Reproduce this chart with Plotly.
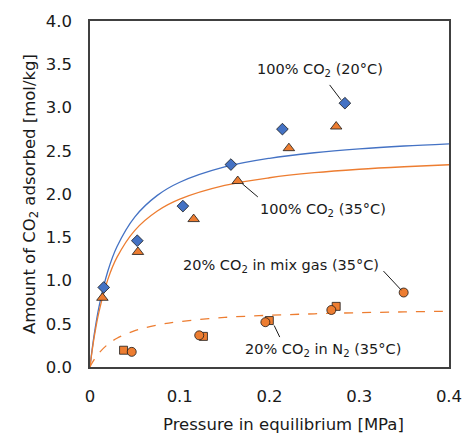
import plotly.graph_objects as go

# Measured points
p_20 = [0.0153, 0.0527, 0.1035, 0.157, 0.2144, 0.284]
q_20 = [0.92, 1.46, 1.86, 2.34, 2.75, 3.05]

p_35 = [0.0138, 0.0534, 0.1155, 0.1646, 0.2216, 0.2743]
q_35 = [0.80, 1.33, 1.71, 2.15, 2.53, 2.78]

p_mix = [0.0465, 0.1217, 0.1954, 0.2689, 0.3495]
q_mix = [0.175, 0.366, 0.518, 0.659, 0.861]

p_n2 = [0.0374, 0.1264, 0.1998, 0.2743]
q_n2 = [0.194, 0.354, 0.537, 0.701]

# Fitted curves
p_fit = [0.0, 0.002, 0.005, 0.01, 0.02, 0.03, 0.05, 0.075, 0.1, 0.15, 0.2, 0.25, 0.3, 0.35, 0.4]
fit_20 = [0.0, 0.174, 0.398, 0.696, 1.112, 1.390, 1.736, 1.984, 2.136, 2.313, 2.413, 2.477, 2.522, 2.555, 2.580]
fit_35 = [0.0, 0.160, 0.365, 0.637, 1.016, 1.267, 1.580, 1.803, 1.940, 2.099, 2.188, 2.246, 2.286, 2.315, 2.338]
fit_n2 = [0.0, 0.040, 0.091, 0.162, 0.263, 0.332, 0.420, 0.485, 0.525, 0.573, 0.598, 0.615, 0.628, 0.637, 0.645]

x_ticks = [0, 0.1, 0.2, 0.3, 0.4]
y_ticks = [0.0, 0.5, 1.0, 1.5, 2.0, 2.5, 3.0, 3.5, 4.0]

BLUE = "#4472C4"
ORANGE = "#ED7D31"
FONT = "DejaVu Sans"
TXT = "#1a1a1a"

fig = go.Figure()
fig.add_trace(go.Scatter(x=p_fit, y=fit_20, mode="lines", line=dict(color=BLUE, width=1.3, shape="spline"), showlegend=False))
fig.add_trace(go.Scatter(x=p_fit, y=fit_35, mode="lines", line=dict(color=ORANGE, width=1.3, shape="spline"), showlegend=False))
fig.add_trace(go.Scatter(x=p_fit, y=fit_n2, mode="lines", line=dict(color=ORANGE, width=1.3, dash="dash", shape="spline"), showlegend=False))

mline = dict(color=TXT, width=0.8)
fig.add_trace(go.Scatter(x=p_n2, y=q_n2, mode="markers", marker=dict(symbol="square", size=8, color=ORANGE, line=mline), showlegend=False))
fig.add_trace(go.Scatter(x=p_mix, y=q_mix, mode="markers", marker=dict(symbol="circle", size=9, color=ORANGE, line=mline), showlegend=False))
fig.add_trace(go.Scatter(x=p_35, y=q_35, mode="markers", marker=dict(symbol="triangle-up", size=10, color=ORANGE, line=mline), showlegend=False))
fig.add_trace(go.Scatter(x=p_20, y=q_20, mode="markers", marker=dict(symbol="diamond", size=9, color=BLUE, line=mline), showlegend=False))

labels = [
    ("100% CO<sub>2</sub> (20°C)", 0.2561, 3.43),
    ("100% CO<sub>2</sub> (35°C)", 0.260, 1.81),
    ("20% CO<sub>2</sub> in mix gas (35°C)", 0.2129, 1.166),
    ("20% CO<sub>2</sub> in N<sub>2</sub> (35°C)", 0.2594, 0.202),
]
for t, x, y in labels:
    fig.add_annotation(x=x, y=y, text=t, showarrow=False, xref="x", yref="y",
                       font=dict(family=FONT, size=14.5, color=TXT))

leaders = [
    (0.2670, 3.261, 0.2796, 3.089),
    (0.1697, 2.118, 0.1870, 1.966),
    (0.3270, 1.109, 0.3469, 0.888),
    (0.2052, 0.480, 0.2114, 0.346),
]
for x0, y0, x1, y1 in leaders:
    fig.add_shape(type="line", x0=x0, y0=y0, x1=x1, y1=y1, xref="x", yref="y",
                  line=dict(color=TXT, width=1))

# x-axis title (offset to the right like the original)
fig.add_annotation(text="Pressure in equilibrium [MPa]", xref="paper", yref="paper",
                   x=0.538, y=-0.165, xanchor="center", yanchor="middle", showarrow=False,
                   font=dict(family=FONT, size=16.5, color=TXT))

axis_common = dict(showgrid=False, zeroline=False, showline=True, linecolor="#404040",
                   linewidth=1.5, mirror=True, ticks="", ticklabelstandoff=13,
                   tickfont=dict(family=FONT, size=16.5, color=TXT))
fig.update_xaxes(range=[0, 0.4], tickvals=x_ticks, ticktext=[("0" if v == 0 else f"{v:g}") for v in x_ticks],
                 **axis_common)
fig.update_yaxes(range=[0, 4.0], tickvals=y_ticks, ticktext=[f"{v:.1f}" for v in y_ticks],
                 title=dict(text="Amount of CO<sub>2</sub> adsorbed [mol/kg]", font=dict(family=FONT, size=16.5, color=TXT), standoff=6),
                 **axis_common)
fig.update_layout(width=474, height=441, margin=dict(l=90, r=17, t=17, b=74),
                  plot_bgcolor="white", paper_bgcolor="white")
fig.write_html("out.html")
